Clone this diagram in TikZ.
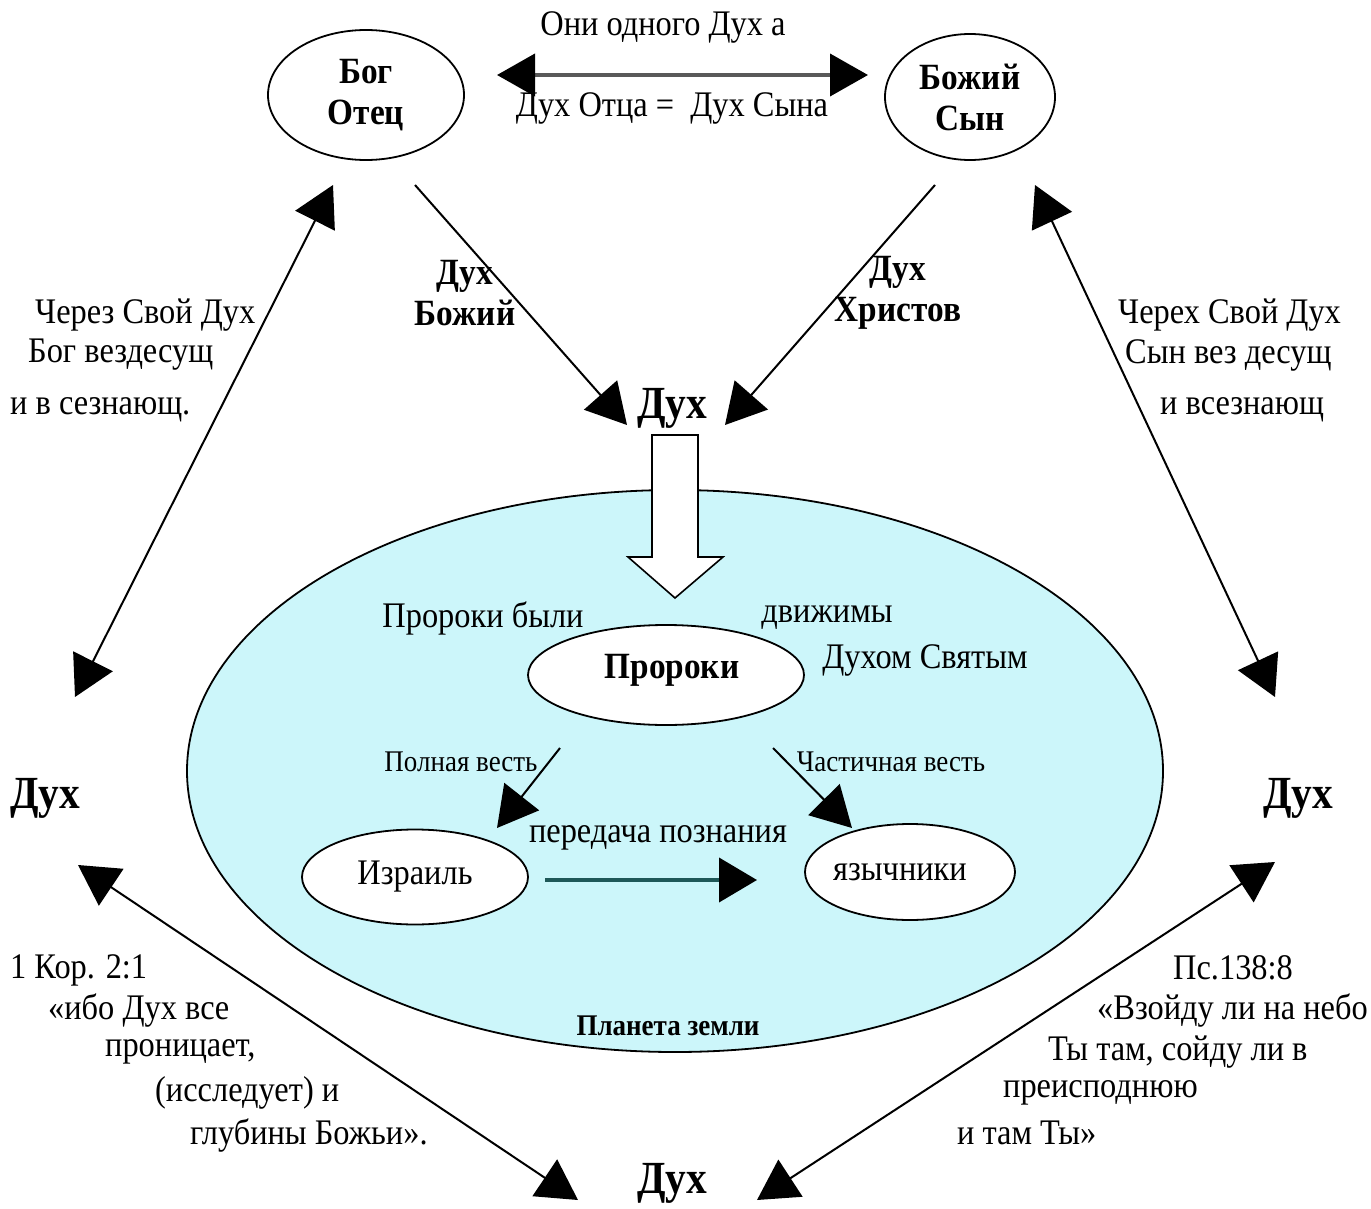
\documentclass[tikz,border=0pt]{standalone}
\usepackage{fontspec}
\setmainfont{Liberation Serif}[FakeStretch=0.9]
\usetikzlibrary{arrows.meta,shapes.geometric}
\definecolor{planet}{RGB}{204,246,250}
\definecolor{teal2}{RGB}{30,88,88}
\tikzset{
  ell/.style={draw, ellipse, line width=1.8pt, fill=white, inner sep=0pt},
  arr/.style={line width=2pt, -{Triangle[length=40pt,width=44pt]}},
  darr/.style={line width=2pt, {Triangle[length=40pt,width=44pt]}-{Triangle[length=40pt,width=44pt]}},
  txt/.style={font=\fontsize{36}{40}\selectfont, inner sep=0pt},
  ltxt/.style={txt, anchor=west},
  stxt/.style={font=\fontsize{30}{32}\selectfont, inner sep=0pt},
  btxt/.style={font=\fontsize{37}{41}\selectfont\bfseries, inner sep=0pt, align=center},
  big/.style={font=\fontsize{46}{50}\selectfont\bfseries, inner sep=0pt},
}
\begin{document}
\begin{tikzpicture}[x=1pt,y=-1pt]
\useasboundingbox (0,0) rectangle (1371,1209);
% planet
\node[draw, ellipse, line width=1.8pt, fill=planet, minimum width=976pt, minimum height=562pt] (planet) at (675,771) {};
\node[font=\fontsize{30}{32}\selectfont\bfseries, inner sep=0pt] (plabel) at (668,1026) {Планета земли};
% top ellipses
\node[ell, btxt, minimum width=196pt, minimum height=130pt] (bog) at (366,95) {Бог\\Отец};
\node[ell, btxt, minimum width=170pt, minimum height=126pt] (syn) at (970,97) {Божий\\Сын};
\node[txt] (odin) at (663,27) {Они одного Дух а};
\node[txt] (ravno) at (672,108) {Дух Отца =\ \ Дух Сына};
\coordinate (tl) at (497,75);
\coordinate (tr) at (868,75);
\draw[line width=4pt, black!65, {Triangle[length=38pt,width=42pt,color=black]}-{Triangle[length=38pt,width=42pt,color=black]}] (tl) -- (tr);
% Dukh centre
\node[big] (duhc) at (672,408) {Дух};
\coordinate (b1) at (415,185);
\coordinate (b1e) at (627,425);
\coordinate (s1) at (935,185);
\coordinate (s1e) at (725,425);
\draw[arr] (b1) -- (b1e);
\draw[arr] (s1) -- (s1e);
\node[btxt] (lbozh) at (465,293) {Дух\\Божий};
\node[btxt] (lhr) at (898,293) {Дух\\Христов};
% hollow arrow
\draw[line width=1.6pt, fill=white] (652,435) -- (698,435) -- (698,557) -- (723,557) -- (675,598) -- (628,557) -- (652,557) -- cycle;
% prophets
\node[ell, minimum width=276pt, minimum height=100pt] (pror) at (666,675) {};
\node[btxt] (prort) at (672,670) {Пророки};
\node[txt] (pbyli) at (483,618) {Пророки были};
\node[txt] (dvizh) at (827,618) {движимы};
\node[txt] (dsv) at (925,660) {Духом Святым};
\node[ell, txt, minimum width=226pt, minimum height=95pt] (izr) at (415,877) {Израиль};
\node[ell, minimum width=210pt, minimum height=96pt] (yaz) at (910,872) {};
\node[txt] (yazt) at (900,872) {язычники};
\coordinate (p1) at (560,748);
\coordinate (p1e) at (497,828);
\coordinate (p2) at (773,748);
\coordinate (p2e) at (852,828);
\draw[arr] (p1) -- (p1e);
\draw[arr] (p2) -- (p2e);
\node[stxt] (poln) at (461,762) {Полная весть};
\node[stxt] (chast) at (891,762) {Частичная весть};
\coordinate (i1) at (545,880);
\coordinate (i1e) at (757,880);
\draw[line width=4pt, teal2, -{Triangle[length=38pt,width=44pt,color=black]}] (i1) -- (i1e);
\node[txt] (pered) at (658,838) {передача познания};
% side Dukh
\node[big] (duhl) at (45,798) {Дух};
\node[big] (duhr) at (1298,798) {Дух};
\node[big] (duhb) at (672,1183) {Дух};
% long arrows
\coordinate (la1) at (333,185);
\coordinate (la2) at (75,697);
\draw[darr] (la2) -- (la1);
\coordinate (ra1) at (1035,185);
\coordinate (ra2) at (1275,697);
\draw[darr] (ra1) -- (ra2);
\coordinate (lb1) at (78,865);
\coordinate (lb2) at (578,1200);
\draw[darr] (lb1) -- (lb2);
\coordinate (rb1) at (1275,862);
\coordinate (rb2) at (757,1200);
\draw[darr] (rb1) -- (rb2);
% left upper text
\node[ltxt] (l1) at (35,315) {Через Свой Дух};
\node[ltxt] (l2) at (28,355) {Бог вездесущ};
\node[ltxt] (l3) at (10,410) {и в сезнающ.};
% right upper text
\node[ltxt] (r1) at (1118,315) {Черех Свой Дух};
\node[ltxt] (r2) at (1125,355) {Сын вез десущ};
\node[ltxt] (r3) at (1160,410) {и всезнающ};
% lower left text
\node[ltxt] (q1) at (10,970) {1 Кор. 2:1};
\node[ltxt] (q2) at (48,1010) {«ибо Дух все};
\node[ltxt] (q3) at (105,1052) {проницает,};
\node[ltxt] (q4) at (155,1093) {(исследует) и};
\node[ltxt] (q5) at (190,1135) {глубины Божьи».};
% lower right text
\node[ltxt] (w1) at (1173,968) {Пс.138:8};
\node[ltxt] (w2) at (1097,1010) {«Взойду ли на небо};
\node[ltxt] (w3) at (1048,1052) {Ты там, сойду ли в};
\node[ltxt] (w4) at (1003,1093) {преисподнюю};
\node[ltxt] (w5) at (957,1133) {и там Ты»};
\end{tikzpicture}
\end{document}
